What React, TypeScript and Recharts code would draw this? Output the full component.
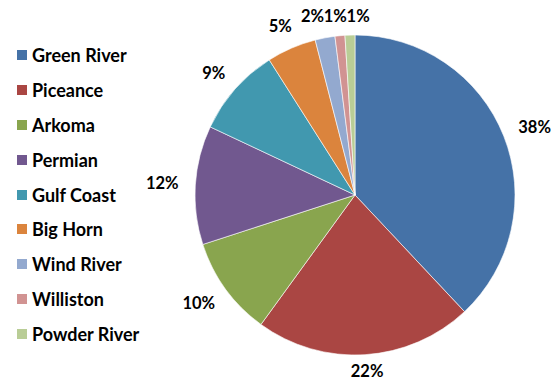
import React from 'react';
import { PieChart, Pie, Cell } from 'recharts';

const categories = ['Green River', 'Piceance', 'Arkoma', 'Permian', 'Gulf Coast', 'Big Horn', 'Wind River', 'Williston', 'Powder River'];
const shares = [38, 22, 10, 12, 9, 5, 2, 1, 1];
const colors = ['#4572A7', '#AA4643', '#89A54E', '#71588F', '#4198AF', '#DB843D', '#93A9CF', '#D19392', '#B9CD96'];
const pctLabels = shares.map((v) => `${v}%`);

const data = categories.map((name, i) => ({ name, value: shares[i] }));

const W = 553;
const H = 382;
const CX = 355;
const CY = 195;
const R = 160;
const LABEL_GAP = 17;
const LABEL_FS = 16.5;
const LABEL_H = 14;
const TOP_Y = 16;
const BOTTOM_Y = 371;
const FONT = "Lato, 'Liberation Sans', sans-serif";

function textWidth(t: string) {
  let w = 0;
  for (const ch of t) w += ch === '%' ? 0.8 * LABEL_FS : 0.58 * LABEL_FS;
  return w;
}

type LP = { x: number; y: number; w: number; clamped: boolean };

function computeLabelPositions(): LP[] {
  const total = shares.reduce((a, b) => a + b, 0);
  let cum = 0;
  const items: LP[] = shares.map((v, i) => {
    const midDeg = ((cum + v / 2) / total) * 360;
    cum += v;
    const th = (midDeg * Math.PI) / 180;
    const s = Math.sin(th);
    const c = Math.cos(th);
    const w = textWidth(pctLabels[i]);
    const x = CX + (R + LABEL_GAP) * s + (s * w) / 2;
    let y = CY - (R + LABEL_GAP) * c - (c * LABEL_H) / 2;
    let clamped = false;
    if (y < TOP_Y) {
      y = TOP_Y;
      clamped = true;
    }
    if (y > BOTTOM_Y) y = BOTTOM_Y;
    return { x, y, w, clamped };
  });
  const idx = items.map((_, i) => i).filter((i) => items[i].clamped).sort((a, b) => items[a].x - items[b].x);
  type G = { members: number[]; center: number; width: number };
  const groups: G[] = idx.map((i) => ({ members: [i], center: items[i].x, width: items[i].w }));
  let merged = true;
  while (merged) {
    merged = false;
    for (let g = 0; g < groups.length - 1; g++) {
      const a = groups[g];
      const b = groups[g + 1];
      if (a.center + a.width / 2 > b.center - b.width / 2) {
        const members = [...a.members, ...b.members];
        const mean = members.reduce((s, m) => s + items[m].x, 0) / members.length;
        groups.splice(g, 2, { members, center: mean, width: a.width + b.width });
        merged = true;
        break;
      }
    }
  }
  groups.forEach((g) => {
    let left = g.center - g.width / 2;
    g.members.forEach((m) => {
      items[m].x = left + items[m].w / 2;
      left += items[m].w;
    });
  });
  return items;
}

const labelPositions = computeLabelPositions();

const renderLabel = (props: any) => {
  const p = labelPositions[props.index];
  if (!p) return null;
  return (
    <text
      x={p.x}
      y={p.y}
      textAnchor="middle"
      dominantBaseline="central"
      fontFamily={FONT}
      fontWeight={700}
      fontSize={LABEL_FS}
      fill="#000"
    >
      {pctLabels[props.index]}
    </text>
  );
};

function LegendBlock() {
  return (
    <div style={{ position: 'absolute', left: 17, top: 37.5, display: 'flex', flexDirection: 'column' }}>
      {categories.map((name, i) => (
        <div key={name} style={{ height: 34.9, display: 'flex', alignItems: 'center' }}>
          <span style={{ width: 10, height: 10, background: colors[i], display: 'inline-block', marginRight: 5 }} />
          <span style={{ fontFamily: FONT, fontWeight: 700, fontSize: 18, color: '#000', lineHeight: '18px', whiteSpace: 'nowrap' }}>{name}</span>
        </div>
      ))}
    </div>
  );
}

export default function App() {
  return (
    <div style={{ position: 'absolute', left: 0, top: 0, width: W, height: H, background: '#fff' }}>
      <PieChart width={W} height={H} margin={{ top: 0, right: 0, bottom: 0, left: 0 }}>
        <Pie
          data={data}
          dataKey="value"
          nameKey="name"
          cx={CX}
          cy={CY}
          outerRadius={R}
          startAngle={90}
          endAngle={-270}
          stroke="#ffffff"
          strokeWidth={0.6}
          label={renderLabel}
          labelLine={false}
          isAnimationActive={false}
        >
          {data.map((d, i) => (
            <Cell key={d.name} fill={colors[i]} />
          ))}
        </Pie>
      </PieChart>
      <LegendBlock />
    </div>
  );
}
